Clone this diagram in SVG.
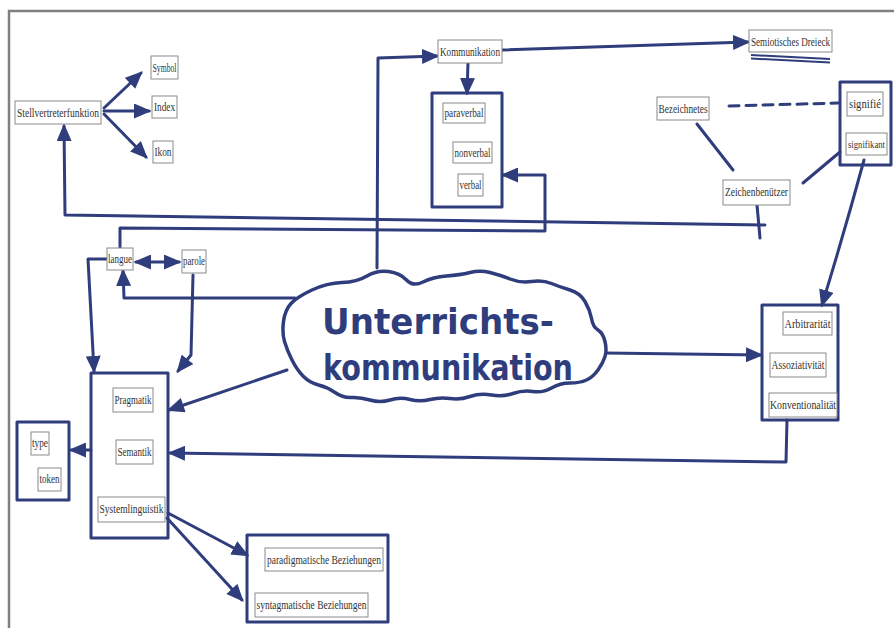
<svg xmlns="http://www.w3.org/2000/svg" width="894" height="628" viewBox="0 0 894 628">
<style>
.lb{fill:#fff;stroke:#8a8a8a;stroke-width:1}
.lt{font-family:"Liberation Serif","Times New Roman",serif;font-size:13.5px;fill:#333;text-anchor:middle}
.bx{fill:none;stroke:#2f3d7c;stroke-width:3;stroke-linejoin:round}
.cn{fill:none;stroke:#2f3d7c;stroke-width:3;stroke-linecap:round;stroke-linejoin:round}
.ar{marker-end:url(#ah)}
.hw{font-family:"DejaVu Sans","Noto Sans",sans-serif;font-weight:bold;font-size:36px;fill:#2f3d7c;text-anchor:middle}
</style>
<defs>
<marker id="ah" viewBox="0 0 14 12" refX="12" refY="6" markerWidth="18" markerHeight="15" markerUnits="userSpaceOnUse" orient="auto-start-reverse">
<path d="M0,0 L14,6 L0,12 z" fill="#2f3d7c"/>
</marker>
</defs>
<rect width="894" height="628" fill="#fff"/>
<path d="M9,628 L9,11 L894,11" fill="none" stroke="#808080" stroke-width="2.5"/>

<g id="connectors">
<path class="cn ar" d="M104,108 L141,73"/>
<path class="cn ar" d="M104,111 L149,111"/>
<path class="cn ar" d="M104,114 L146,157"/>
<path class="cn ar" d="M765,225 L65,215 L64,126"/>
<path class="cn" d="M757,205 L760,238"/>
<path class="cn" d="M697,124 L733,170"/>
<path class="cn" d="M803,183 L840,152"/>
<path class="cn" d="M729,106 L838,103" stroke-dasharray="10,7"/>
<path class="cn ar" d="M864,160 Q845,230 822,305"/>
<path class="cn ar" d="M502,50 Q620,46 748,42"/>
<path class="cn ar" d="M377,268 L378,58 L437,56"/>
<path class="cn ar" d="M468,63 L467,93"/>
<path class="cn ar" d="M120,248 L120,228 L545,231 L545,175 L503,175"/>
<path class="cn ar" d="M136,262 L179,262" marker-start="url(#ah)"/>
<path class="cn ar" d="M107,259 L88,259 L94,371"/>
<path class="cn ar" d="M193,275 L191,355 L178,371"/>
<path class="cn ar" d="M295,298 L124,298 L123,271"/>
<path class="cn ar" d="M287,370 L169,410"/>
<path class="cn ar" d="M787,420 L786,462 L170,453"/>
<path class="cn ar" d="M605,353 L761,355"/>
<path class="cn ar" d="M91,450 L71,450"/>
<path class="cn ar" d="M168,513 L247,555"/>
<path class="cn ar" d="M167,518 L242,600"/>
</g>

<g id="cloud">
<path d="M283.5,321.5 Q285,310 291,303.5 Q297,297 312,290 Q327,283 342,282.5 Q357,282 367,276 Q377,270 388.5,271.5 Q400,273 406.5,280 Q413,287 423,282 Q433,277 446.5,276 Q460,275 470,272.5 Q480,270 490,272.5 Q500,275 510,279 Q520,283 531.5,281.5 Q543,280 551.5,283.5 Q560,287 570,290 Q580,293 585,301.5 Q590,310 591.5,318.5 Q593,327 598,330 Q603,333 605,341.5 Q607,350 605,356.5 Q603,363 598,370 Q593,377 586.5,380 Q580,383 570,383 Q560,383 551.5,388 Q543,393 533,391.5 Q523,390 513,393.5 Q503,397 491.5,395 Q480,393 470,396.5 Q460,400 450,398.5 Q440,397 430,399.5 Q420,402 410,399.5 Q400,397 390,400 Q380,403 370,400 Q360,397 351.5,397.5 Q343,398 335,392.5 Q327,387 318.5,385 Q310,383 303.5,376.5 Q297,370 292,360 Q287,350 284.5,341.5 Q282,333 283.5,321.5 Z" fill="#fff" stroke="#2f3d7c" stroke-width="3.5" stroke-linejoin="round"/>
<text class="hw" x="438" y="334" textLength="232" lengthAdjust="spacingAndGlyphs">Unterrichts-</text>
<text class="hw" x="448" y="380" textLength="250" lengthAdjust="spacingAndGlyphs">kommunikation</text>
</g>

<g id="stellvertreterfunktion">
<rect class="lb" x="15" y="101" width="86" height="23"/>
<text class="lt" x="58" y="117" textLength="82" lengthAdjust="spacingAndGlyphs">Stellvertreterfunktion</text>
</g>
<g id="symbol">
<rect class="lb" x="151" y="56" width="27" height="23"/>
<text class="lt" x="164.5" y="72" textLength="24" lengthAdjust="spacingAndGlyphs">Symbol</text>
</g>
<g id="index">
<rect class="lb" x="152" y="96" width="25" height="22"/>
<text class="lt" x="164.5" y="111" textLength="21" lengthAdjust="spacingAndGlyphs">Index</text>
</g>
<g id="ikon">
<rect class="lb" x="153" y="141" width="20" height="22"/>
<text class="lt" x="163" y="156" textLength="17" lengthAdjust="spacingAndGlyphs">Ikon</text>
</g>

<g id="kommunikation">
<rect class="lb" x="438" y="40" width="64" height="23"/>
<text class="lt" x="470" y="56" textLength="60" lengthAdjust="spacingAndGlyphs">Kommunikation</text>
</g>
<g id="semiotisches-dreieck">
<rect class="lb" x="749" y="30" width="83" height="22"/>
<text class="lt" x="790.5" y="46" textLength="79" lengthAdjust="spacingAndGlyphs">Semiotisches Dreieck</text>
<path d="M751,55 L830,59 M751,58.5 L830,62.5" stroke="#2f3d7c" stroke-width="2" fill="none"/>
</g>

<g id="kommunikationsarten">
<rect class="bx" x="432" y="93" width="70" height="114"/>
<rect class="lb" x="443" y="103" width="42" height="20"/>
<text class="lt" x="464" y="117" textLength="39" lengthAdjust="spacingAndGlyphs">paraverbal</text>
<rect class="lb" x="453" y="142" width="39" height="21"/>
<text class="lt" x="472.5" y="157" textLength="36" lengthAdjust="spacingAndGlyphs">nonverbal</text>
<rect class="lb" x="458" y="174" width="25" height="22"/>
<text class="lt" x="470.5" y="189" textLength="22" lengthAdjust="spacingAndGlyphs">verbal</text>
</g>

<g id="bezeichnetes">
<rect class="lb" x="657" y="97" width="52" height="23"/>
<text class="lt" x="683" y="113" textLength="49" lengthAdjust="spacingAndGlyphs">Bezeichnetes</text>
</g>
<g id="zeichenbenuetzer">
<rect class="lb" x="723" y="180" width="67" height="25"/>
<text class="lt" x="756.5" y="196" textLength="63" lengthAdjust="spacingAndGlyphs">Zeichenbenützer</text>
</g>
<g id="zeichen">
<rect class="bx" x="840" y="82" width="51" height="83"/>
<rect class="lb" x="847" y="92" width="36" height="24"/>
<text class="lt" x="865" y="108" textLength="32" lengthAdjust="spacingAndGlyphs">signifié</text>
<rect class="lb" x="846" y="133" width="41" height="22"/>
<text class="lt" x="866.5" y="148" style="font-size:11px" textLength="37" lengthAdjust="spacingAndGlyphs">signifikant</text>
</g>

<g id="langue">
<rect class="lb" x="107" y="248" width="26" height="22"/>
<text class="lt" x="120" y="263" textLength="24" lengthAdjust="spacingAndGlyphs">langue</text>
</g>
<g id="parole">
<rect class="lb" x="182" y="250" width="24" height="23"/>
<text class="lt" x="194" y="265" textLength="22" lengthAdjust="spacingAndGlyphs">parole</text>
</g>

<g id="linguistik">
<rect class="bx" x="91" y="373" width="77" height="165"/>
<rect class="lb" x="113" y="388" width="40" height="24"/>
<text class="lt" x="133" y="404" textLength="37" lengthAdjust="spacingAndGlyphs">Pragmatik</text>
<rect class="lb" x="116" y="440" width="37" height="24"/>
<text class="lt" x="134.5" y="456" textLength="34" lengthAdjust="spacingAndGlyphs">Semantik</text>
<rect class="lb" x="98" y="497" width="67" height="25"/>
<text class="lt" x="131.5" y="513" textLength="64" lengthAdjust="spacingAndGlyphs">Systemlinguistik</text>
</g>

<g id="type-token">
<rect class="bx" x="17" y="422" width="52" height="78"/>
<rect class="lb" x="31" y="432" width="18" height="23"/>
<text class="lt" x="40" y="447" textLength="16" lengthAdjust="spacingAndGlyphs">type</text>
<rect class="lb" x="38" y="468" width="23" height="23"/>
<text class="lt" x="49.5" y="483" textLength="20" lengthAdjust="spacingAndGlyphs">token</text>
</g>

<g id="beziehungen">
<rect class="bx" x="247" y="535" width="141" height="87"/>
<rect class="lb" x="265" y="548" width="118" height="23"/>
<text class="lt" x="324" y="564" textLength="114" lengthAdjust="spacingAndGlyphs">paradigmatische Beziehungen</text>
<rect class="lb" x="255" y="593" width="113" height="24"/>
<text class="lt" x="311.5" y="609" textLength="110" lengthAdjust="spacingAndGlyphs">syntagmatische Beziehungen</text>
</g>

<g id="eigenschaften">
<rect class="bx" x="762" y="305" width="76" height="115"/>
<rect class="lb" x="783" y="312" width="49" height="23"/>
<text class="lt" x="807.5" y="328" textLength="46" lengthAdjust="spacingAndGlyphs">Arbitrarität</text>
<rect class="lb" x="770" y="353" width="56" height="24"/>
<text class="lt" x="798" y="369" textLength="53" lengthAdjust="spacingAndGlyphs">Assoziativität</text>
<rect class="lb" x="769" y="393" width="68" height="24"/>
<text class="lt" x="803" y="409" textLength="66" lengthAdjust="spacingAndGlyphs">Konventionalität</text>
</g>
</svg>
